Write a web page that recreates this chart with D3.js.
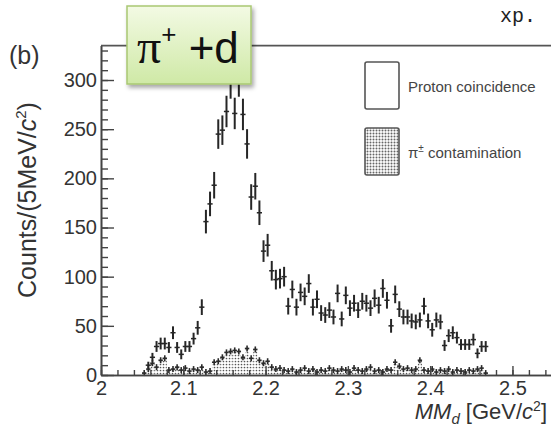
<!DOCTYPE html>
<html>
<head>
<meta charset="utf-8">
<script src="https://cdn.jsdelivr.net/npm/d3@7/dist/d3.min.js"></script>
<style>
body { margin: 0; background: #fff; }
svg { display: block; font-family: "Liberation Sans", Arial, sans-serif; }
</style>
</head>
<body>
<div id="chart"></div>
<script>
// bin centres of the 5 MeV histogram (GeV/c^2)
var massBins = [2.0525, 2.0575, 2.0625, 2.0675, 2.0725, 2.0775, 2.0825, 2.0875, 2.0925, 2.0975,
    2.1025, 2.1075, 2.1125, 2.1175, 2.1225, 2.1275, 2.1325, 2.1375, 2.1425, 2.1475,
    2.1525, 2.1575, 2.1625, 2.1675, 2.1725, 2.1775, 2.1825, 2.1875, 2.1925, 2.1975,
    2.2025, 2.2075, 2.2125, 2.2175, 2.2225, 2.2275, 2.2325, 2.2375, 2.2425, 2.2475,
    2.2525, 2.2575, 2.2625, 2.2675, 2.2725, 2.2775, 2.2825, 2.2875, 2.2925, 2.2975,
    2.3025, 2.3075, 2.3125, 2.3175, 2.3225, 2.3275, 2.3325, 2.3375, 2.3425, 2.3475,
    2.3525, 2.3575, 2.3625, 2.3675, 2.3725, 2.3775, 2.3825, 2.3875, 2.3925, 2.3975,
    2.4025, 2.4075, 2.4125, 2.4175, 2.4225, 2.4275, 2.4325, 2.4375, 2.4425, 2.4475,
    2.4525, 2.4575, 2.4625, 2.4675];

// proton coincidence counts and their error bars
var protonCounts = [null, 10, 18, 29, 32, 32, 28, 43, 28, 21,
    29, 29, 37, 48, 69, 156, 174, 193, 245, 249,
    268, 298, 266, 300, 265, 235, 181, 192, 165, 126,
    132, 106, 97, 98, 100, 70, 87, 69, 84, 80,
    93, 69, 77, 63, 61, 66, 59, 83, 57, 81,
    68, 73, 66, 75, 73, 68, 78, 71, 88, 76,
    50, 82, 67, 59, 59, 55, 54, 56, 70, 55,
    46, 56, 54, 30, 40, 43, 38, 31, 31, 31,
    36, 22, 29, 29];
var protonErrors = [null, 3.5, 4.5, 5.5, 6, 6, 5.5, 6.5, 5.5, 5,
    5.5, 5.5, 6, 7, 8, 12, 12.5, 13.5, 15, 15,
    16, 17, 16, 17, 16, 15, 13, 13.5, 12.5, 11,
    11.5, 10, 10, 10, 10, 8.5, 9, 8.5, 9, 9,
    9.5, 8.5, 9, 8, 8, 8, 7.5, 9, 7.5, 9,
    8, 8.5, 8, 8.5, 8.5, 8, 9, 8.5, 9.5, 8.5,
    7, 9, 8, 7.5, 7.5, 7.5, 7.5, 7.5, 8.5, 7.5,
    7, 7.5, 7.5, 5.5, 6.5, 6.5, 6, 5.5, 5.5, 5.5,
    6, 5, 5.5, 5.5];

// pi+- contamination counts
var pionCounts = [2, 6, 12, 8, 15, 17, 5, 6, 8, 5,
    7, 4, 6, 5, 8, 3, 4, 13, 14, 18,
    23, 24, 25, 24, 18, 27, 17, 26, 15, 12,
    14, 8, 6, 7, 5, 4, 6, 3, 5, 7,
    4, 6, 3, 5, 4, 7, 5, 4, 6, 5,
    3, 7, 5, 4, 6, 8, 4, 5, 3, 6,
    5, 13, 9, 6, 7, 5, 6, 15, 5, 4,
    6, 3, 5, 4, 6, 3, 5, 4, 3, 5,
    4, 6, 7, 2];

var xMajorTicks = [2, 2.1, 2.2, 2.3, 2.4, 2.5];
var xTickLabels = ["2", "2.1", "2.2", "2.3", "2.4", "2.5"];
var yMajorTicks = [0, 50, 100, 150, 200, 250, 300];

var binWidth = 0.005;
var width = 551, height = 430;

var svg = d3.select("#chart").append("svg")
    .attr("width", width)
    .attr("height", height);

var x = d3.scaleLinear().domain([2, 2.55]).range([101, 553.6]);
var y = d3.scaleLinear().domain([0, 335]).range([375, 45.6]);

var defs = svg.append("defs");
function dotPattern(id, r, color) {
    var p = defs.append("pattern")
        .attr("id", id)
        .attr("width", 3)
        .attr("height", 3)
        .attr("patternUnits", "userSpaceOnUse");
    p.append("rect").attr("width", 3).attr("height", 3).attr("fill", "#fff");
    p.append("circle").attr("cx", 1.5).attr("cy", 1.5).attr("r", r).attr("fill", color);
}
dotPattern("dots", 0.85, "#555");
dotPattern("dotsLegend", 1.0, "#666");

var grad = defs.append("linearGradient")
    .attr("id", "greenGrad")
    .attr("x1", 0).attr("y1", 0).attr("x2", 0).attr("y2", 1);
grad.append("stop").attr("offset", "0%").attr("stop-color", "#f3fae4");
grad.append("stop").attr("offset", "100%").attr("stop-color", "#cfe9a6");

defs.append("filter").attr("id", "shadow")
    .attr("x", "-10%").attr("y", "-10%").attr("width", "130%").attr("height", "130%")
    .append("feDropShadow")
    .attr("dx", 2).attr("dy", 3).attr("stdDeviation", 2)
    .attr("flood-color", "#000").attr("flood-opacity", 0.35);

// contamination histogram (dotted fill)
var bins = massBins.map(function(m, i) {
    return { m: m, p: protonCounts[i], e: protonErrors[i], c: pionCounts[i] };
});

svg.append("g").selectAll("rect")
    .data(bins)
    .enter()
    .append("rect")
    .attr("x", function(d) { return x(d.m - binWidth / 2); })
    .attr("width", function(d) { return x(d.m + binWidth / 2) - x(d.m - binWidth / 2); })
    .attr("y", function(d) { return y(d.c); })
    .attr("height", function(d) { return y(0) - y(d.c); })
    .attr("fill", "url(#dots)");

// contamination markers
var pionMarks = svg.append("g")
    .attr("stroke", "#2a2a2a")
    .attr("stroke-width", 1.6)
    .selectAll("g")
    .data(bins)
    .enter()
    .append("g");
pionMarks.append("line")
    .attr("x1", function(d) { return x(d.m); })
    .attr("x2", function(d) { return x(d.m); })
    .attr("y1", function(d) { return y(d.c) - 3; })
    .attr("y2", function(d) { return y(d.c) + 3; });
pionMarks.append("line")
    .attr("x1", function(d) { return x(d.m) - 2.2; })
    .attr("x2", function(d) { return x(d.m) + 2.2; })
    .attr("y1", function(d) { return y(d.c); })
    .attr("y2", function(d) { return y(d.c); });

// proton coincidence points with error bars
var protonData = bins.filter(function(d) { return d.p !== null; });
var protonMarks = svg.append("g")
    .attr("stroke", "#262626")
    .selectAll("g")
    .data(protonData)
    .enter()
    .append("g");
protonMarks.append("line")
    .attr("stroke-width", 2)
    .attr("x1", function(d) { return x(d.m); })
    .attr("x2", function(d) { return x(d.m); })
    .attr("y1", function(d) { return y(d.p - d.e); })
    .attr("y2", function(d) { return y(d.p + d.e); });
protonMarks.append("line")
    .attr("stroke-width", 1.5)
    .attr("x1", function(d) { return x(d.m) - 2.6; })
    .attr("x2", function(d) { return x(d.m) + 2.6; })
    .attr("y1", function(d) { return y(d.p); })
    .attr("y2", function(d) { return y(d.p); });

// axes
function styleAxis(g) {
    g.select(".domain").attr("stroke", "#444").attr("stroke-width", 1.6);
    g.selectAll(".tick line").attr("stroke", "#444").attr("stroke-width", 1.4);
    g.selectAll("text")
        .attr("fill", "#333")
        .attr("font-size", 20)
        .attr("font-family", "Liberation Sans, Arial, sans-serif");
}

svg.append("g")
    .attr("transform", "translate(0," + y(0) + ")")
    .call(d3.axisBottom(x).tickValues(x.ticks(27)).tickSize(-5).tickSizeOuter(0).tickFormat(""))
    .call(styleAxis);
svg.append("g")
    .attr("class", "x-axis")
    .attr("transform", "translate(0," + y(0) + ")")
    .call(d3.axisBottom(x).tickValues(xMajorTicks).tickSize(-9).tickSizeOuter(0).tickPadding(6)
        .tickFormat(function(d, i) { return xTickLabels[i]; }))
    .call(styleAxis);

svg.append("g")
    .attr("transform", "translate(" + x(2) + ",0)")
    .call(d3.axisLeft(y).tickValues(y.ticks(34)).tickSize(-7).tickSizeOuter(0).tickFormat(""))
    .call(styleAxis);
svg.append("g")
    .attr("class", "y-axis")
    .attr("transform", "translate(" + x(2) + ",0)")
    .call(d3.axisLeft(y).tickValues(yMajorTicks).tickSize(-13).tickSizeOuter(0).tickPadding(4))
    .call(styleAxis);

// top frame line
svg.append("line")
    .attr("x1", x(2)).attr("x2", x(2.55))
    .attr("y1", y(335)).attr("y2", y(335))
    .attr("stroke", "#555").attr("stroke-width", 1.8);

// axis titles
var xTitle = svg.append("text")
    .attr("x", 547).attr("y", 419)
    .attr("text-anchor", "end")
    .attr("font-size", 22)
    .attr("fill", "#333");
xTitle.append("tspan").attr("font-style", "italic").text("MM");
xTitle.append("tspan").attr("font-style", "italic").attr("font-size", 15).attr("dy", 5).text("d");
xTitle.append("tspan").attr("dy", -5).text(" [GeV/");
xTitle.append("tspan").attr("font-style", "italic").text("c");
xTitle.append("tspan").attr("font-size", 14).attr("dy", -8).text("2");
xTitle.append("tspan").attr("dy", 8).text("]");

var yTitle = svg.append("text")
    .attr("transform", "translate(36,200) rotate(-90)")
    .attr("text-anchor", "middle")
    .attr("font-size", 25)
    .attr("fill", "#333");
yTitle.append("tspan").text("Counts/(5MeV/");
yTitle.append("tspan").attr("font-style", "italic").text("c");
yTitle.append("tspan").attr("font-size", 15).attr("dy", -10).text("2");
yTitle.append("tspan").attr("dy", 10).text(")");

svg.append("text")
    .attr("x", 9).attr("y", 64)
    .attr("font-size", 25)
    .attr("fill", "#333")
    .text("(b)");

// legend
var legendItems = [
    { label: "Proton coincidence", fill: "#fff", top: 62 },
    { label: "\u03c0", sup: "\u00b1", rest: " contamination", fill: "url(#dotsLegend)", top: 128 }
];
var legend = svg.append("g");
legendItems.forEach(function(item) {
    legend.append("rect")
        .attr("x", 365).attr("y", item.top)
        .attr("width", 34).attr("height", 47)
        .attr("rx", 2)
        .attr("fill", item.fill)
        .attr("stroke", "#555")
        .attr("stroke-width", 1.6);
    var t = legend.append("text")
        .attr("x", 408).attr("y", item.top + 30)
        .attr("font-size", 15)
        .attr("fill", "#444");
    if (item.sup) {
        t.append("tspan").text(item.label);
        t.append("tspan").attr("font-size", 10).attr("dy", -6).text(item.sup);
        t.append("tspan").attr("dy", 6).text(item.rest);
    } else {
        t.text(item.label);
    }
});

// annotation box
svg.append("rect")
    .attr("x", 127).attr("y", 6)
    .attr("width", 124).attr("height", 78)
    .attr("fill", "url(#greenGrad)")
    .attr("stroke", "#a9c873")
    .attr("stroke-width", 1.5)
    .attr("filter", "url(#shadow)");
var note = svg.append("text")
    .attr("x", 137).attr("y", 63)
    .attr("font-size", 44)
    .attr("fill", "#111");
note.append("tspan").attr("font-family", "Liberation Serif, serif").attr("font-size", 48).text("\u03c0");
note.append("tspan").attr("font-size", 26).attr("dy", -20).text("+");
note.append("tspan").attr("dy", 20).text(" +d");

svg.append("text")
    .attr("x", 500).attr("y", 22)
    .attr("font-family", "Liberation Mono, Courier New, monospace")
    .attr("font-size", 20)
    .attr("fill", "#222")
    .text("xp.");
</script>
</body>
</html>
